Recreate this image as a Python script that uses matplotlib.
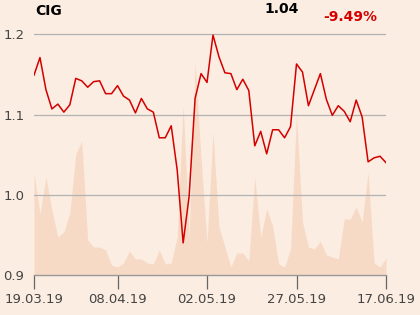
import numpy as np
import matplotlib
matplotlib.use("Agg")
from matplotlib import pyplot as plt

# CIG close price, one point per trading day (19.03.19 .. 17.06.19)
price = [1.149, 1.171, 1.131, 1.107, 1.113, 1.103, 1.112, 1.145, 1.142, 1.134,
         1.141, 1.142, 1.126, 1.126, 1.136, 1.123, 1.118, 1.102, 1.120, 1.107,
         1.103, 1.071, 1.071, 1.086, 1.031, 0.940, 0.998, 1.120, 1.151, 1.140,
         1.199, 1.172, 1.152, 1.151, 1.131, 1.144, 1.130, 1.061, 1.079, 1.051,
         1.081, 1.081, 1.071, 1.085, 1.163, 1.153, 1.111, 1.131, 1.151, 1.119,
         1.099, 1.111, 1.104, 1.091, 1.118, 1.097, 1.041, 1.046, 1.048, 1.040]

# traded volume, arbitrary units
volume = [102, 61, 98, 65, 38, 43, 62, 121, 134, 35,
          28, 28, 25, 10, 8, 12, 24, 16, 16, 12,
          11, 25, 11, 12, 38, 170, 39, 213, 117, 32,
          143, 48, 28, 8, 22, 22, 14, 98, 38, 66,
          49, 11, 8, 26, 160, 53, 28, 26, 34, 20,
          18, 16, 56, 56, 68, 53, 103, 12, 8, 17]

tick_idx = [0, 14, 29, 44, 59]
tick_labels = ["19.03.19", "08.04.19", "02.05.19", "27.05.19", "17.06.19"]
y_ticks = [0.9, 1.0, 1.1, 1.2]

last = "1.04"
change = "-9.49%"

bg = "#fbede1"
red = "#d40000"

x = np.arange(len(price))

fig = plt.figure(figsize=(4.2, 3.15), dpi=100, facecolor=bg)
ax = fig.add_axes([34 / 420, 40 / 315, 352 / 420, 255 / 315])
axv = ax.twinx()

# volume behind the price line
axv.fill_between(x, 0, volume, color="#f7dac6", lw=0)
axv.set_ylim(0, 255)
axv.set_yticks([])
for s in axv.spines.values():
    s.set_visible(False)

ax.set_zorder(axv.get_zorder() + 1)
ax.patch.set_visible(False)
axv.set_facecolor(bg)

ax.plot(x, price, color=red, lw=1.1, zorder=3)
ax.set_xlim(0, len(price) - 1)
ax.set_ylim(0.9, 1.2178)

for v in y_ticks[1:]:
    ax.axhline(v, color="#b3b3b3", lw=0.9, zorder=1)

ax.set_yticks(y_ticks)
ax.set_yticklabels(["0.9", "1.0", "1.1", "1.2"])
ax.set_xticks(tick_idx)
ax.set_xticklabels(tick_labels)
ax.tick_params(axis="y", length=0, pad=7, labelsize=9.5, labelcolor="#444444")
ax.tick_params(axis="x", length=10, width=0.9, color="#666666", pad=3,
               labelsize=9.5, labelcolor="#444444")

for k in ["top", "right", "left"]:
    ax.spines[k].set_visible(False)
ax.spines["bottom"].set_color("#999999")
ax.spines["bottom"].set_linewidth(1.0)

fig.text(35 / 420, 1 - 11 / 315, "CIG", fontsize=10, fontweight="bold",
         ha="left", va="center", color="black")
fig.text(281.5 / 420, 1 - 9 / 315, last, fontsize=10, fontweight="bold",
         ha="center", va="center", color="black")
fig.text(350 / 420, 1 - 17 / 315, change, fontsize=10, fontweight="bold",
         ha="center", va="center", color=red)

fig.savefig("out.png", dpi=100, facecolor=bg)
